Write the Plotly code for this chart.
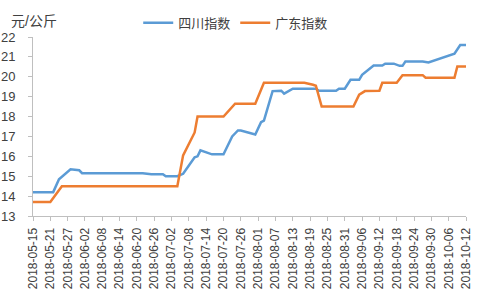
import plotly.graph_objects as go
import pandas as pd

# Sichuan index (blue)
sc_dates = ["2018-05-15", "2018-05-22", "2018-05-24", "2018-05-28", "2018-05-31", "2018-06-01",
            "2018-06-22", "2018-06-25", "2018-06-29", "2018-06-30", "2018-07-04", "2018-07-06",
            "2018-07-10", "2018-07-11", "2018-07-12", "2018-07-13", "2018-07-16", "2018-07-20",
            "2018-07-23", "2018-07-25", "2018-07-26", "2018-07-31", "2018-08-02", "2018-08-03",
            "2018-08-06", "2018-08-09", "2018-08-10", "2018-08-13", "2018-08-21", "2018-08-22",
            "2018-08-28", "2018-08-29", "2018-08-31", "2018-09-02", "2018-09-05", "2018-09-06",
            "2018-09-10", "2018-09-13", "2018-09-14", "2018-09-17", "2018-09-19", "2018-09-20",
            "2018-09-21", "2018-09-27", "2018-09-29", "2018-10-08", "2018-10-10", "2018-10-12"]
sc_values = [14.2, 14.2, 14.85, 15.35, 15.3, 15.15,
             15.15, 15.1, 15.1, 15.0, 15.0, 15.12,
             15.95, 16.0, 16.3, 16.25, 16.1, 16.1,
             17.0, 17.3, 17.3, 17.1, 17.72, 17.8,
             19.28, 19.3, 19.15, 19.4, 19.4, 19.3,
             19.3, 19.4, 19.4, 19.85, 19.85, 20.1,
             20.57, 20.57, 20.66, 20.66, 20.55, 20.55,
             20.77, 20.77, 20.72, 21.16, 21.6, 21.6]

# Guangdong index (orange)
gd_dates = ["2018-05-15", "2018-05-21", "2018-05-25", "2018-07-04", "2018-07-06", "2018-07-10",
            "2018-07-11", "2018-07-20", "2018-07-24", "2018-07-31", "2018-08-03", "2018-08-17",
            "2018-08-20", "2018-08-21", "2018-08-23", "2018-09-03", "2018-09-05", "2018-09-07",
            "2018-09-12", "2018-09-13", "2018-09-18", "2018-09-20", "2018-09-27", "2018-09-28",
            "2018-10-08", "2018-10-09", "2018-10-12"]
gd_values = [13.7, 13.7, 14.5, 14.5, 16.05, 17.2,
             18.0, 18.0, 18.65, 18.65, 19.7, 19.7,
             19.6, 19.55, 18.5, 18.5, 19.1, 19.28,
             19.3, 19.7, 19.7, 20.08, 20.08, 19.95,
             19.95, 20.52, 20.52]

tick_dates = pd.date_range("2018-05-15", "2018-10-12", freq="6D")
tick_labels = [d.strftime("%Y-%m-%d") for d in tick_dates]
y_ticks = list(range(13, 23))

FONT = "Liberation Sans, Arial, Noto Sans CJK SC, sans-serif"
TXT = "#404040"
AX = "#BFBFBF"

fig = go.Figure()
fig.add_trace(go.Scatter(x=sc_dates, y=sc_values, mode="lines", name="四川指数",
                         line=dict(color="#5B9BD5", width=2.5)))
fig.add_trace(go.Scatter(x=gd_dates, y=gd_values, mode="lines", name="广东指数",
                         line=dict(color="#ED7D31", width=2.5)))

fig.update_layout(
    width=481, height=289,
    margin=dict(l=33, r=15, t=37, b=73, autoexpand=False),
    paper_bgcolor="white", plot_bgcolor="white",
    font=dict(family=FONT, size=12, color=TXT),
    showlegend=True,
    legend=dict(orientation="h", x=0.243, xanchor="left", y=1.08, yanchor="middle",
                font=dict(size=13, color=TXT), bgcolor="rgba(0,0,0,0)",
                itemwidth=30, tracegroupgap=0),
    annotations=[dict(text="元/公斤", xref="paper", yref="paper", x=0.002, y=1.09,
                      xanchor="center", yanchor="middle", showarrow=False,
                      font=dict(size=14, color=TXT))],
)
fig.update_xaxes(
    type="date", range=["2018-05-15", "2018-10-12"],
    tickvals=list(tick_dates), ticktext=tick_labels, tickangle=-90,
    showline=True, linecolor=AX, linewidth=1,
    ticks="outside", ticklen=4, tickcolor=AX,
    showgrid=False, zeroline=False, automargin=False,
    ticklabelstandoff=2,
    tickfont=dict(size=12, color=TXT),
)
fig.update_yaxes(
    range=[13, 22], tickvals=y_ticks,
    showline=True, linecolor=AX, linewidth=1,
    ticks="outside", ticklen=4, tickcolor=AX,
    showgrid=False, zeroline=False, automargin=False,
    ticklabelstandoff=10,
    tickfont=dict(size=13, color=TXT),
)

fig.write_html("out.html")
